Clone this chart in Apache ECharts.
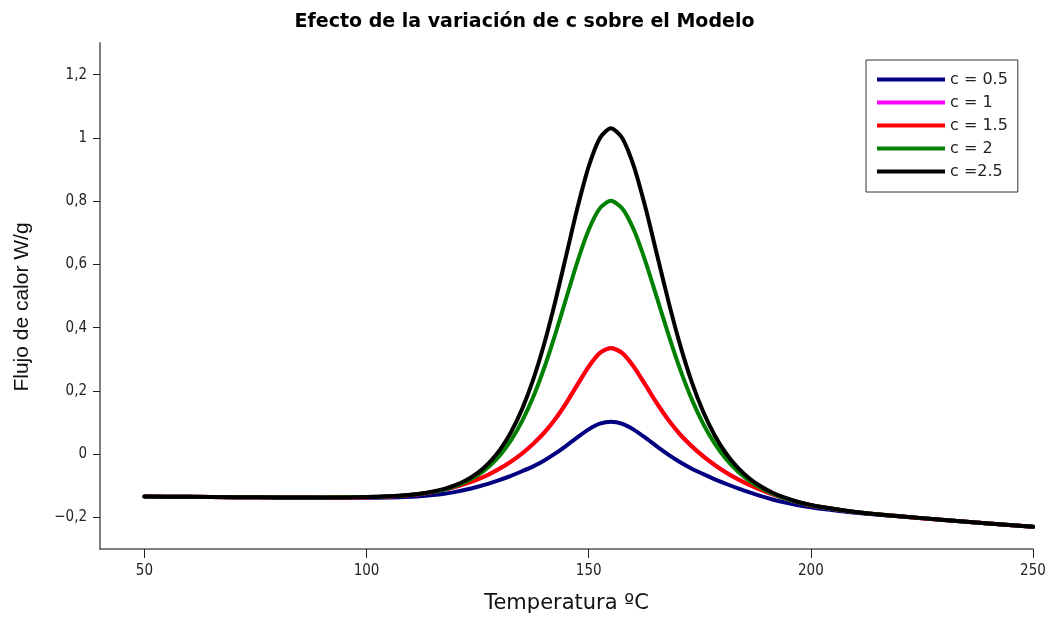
<!DOCTYPE html>
<html>
<head>
<meta charset="utf-8">
<script src="https://cdn.jsdelivr.net/npm/echarts@6/dist/echarts.min.js"></script>
<style>
html,body{margin:0;padding:0;background:#fff;}
#chart{width:1049px;height:619px;}
</style>
</head>
<body>
<div id="chart"></div>
<script>
// ---- data (Temperatura ºC -> Flujo de calor W/g) ----
const temps = [50, 60, 70, 80, 90, 100, 105,
  110, 112.5, 115, 117.5, 120, 122.5, 125, 127.5, 130, 132.5, 135, 137.5, 140, 142.5, 145, 147.5, 150, 152.5, 155,
  157.6, 160.2, 162.8, 165.4, 168, 170.6, 173.2, 175.8, 178.4, 181, 183.6, 186.2, 188.8, 191.4, 194, 196.6, 199.2, 201.8,
  210, 220, 230, 240, 250];

const c05 = [-0.1340, -0.1350, -0.1360, -0.1370, -0.1378, -0.1380, -0.1373,
  -0.1348, -0.1327, -0.1296, -0.1252, -0.1194, -0.1120, -0.1032, -0.0931, -0.0815, -0.0687, -0.0541, -0.0387, -0.0200, 0.0021, 0.0272, 0.0537, 0.0782, 0.0961, 0.1024,
  0.0953, 0.0766, 0.0512, 0.0237, -0.0025, -0.0259, -0.0461, -0.0632, -0.0797, -0.0945, -0.1084, -0.1211, -0.1328, -0.1433, -0.1524, -0.1602, -0.1667, -0.1722,
  -0.1853, -0.1973, -0.2084, -0.2192, -0.2300];

const c1 = [-0.1340, -0.1350, -0.1360, -0.1370, -0.1374, -0.1363, -0.1340,
  -0.1290, -0.1252, -0.1198, -0.1117, -0.1031, -0.0925, -0.0797, -0.0643, -0.0457, -0.0236, 0.0020, 0.0324, 0.0678, 0.1113, 0.1630, 0.2205, 0.2768, 0.3197, 0.3358,
  0.3189, 0.2752, 0.2180, 0.1595, 0.1067, 0.0619, 0.0250, -0.0071, -0.0346, -0.0587, -0.0796, -0.0976, -0.1133, -0.1270, -0.1389, -0.1504, -0.1592, -0.1664,
  -0.1831, -0.1967, -0.2083, -0.2192, -0.2300];

const c15 = [-0.1340, -0.1350, -0.1360, -0.1370, -0.1374, -0.1363, -0.1340,
  -0.1290, -0.1252, -0.1198, -0.1117, -0.1031, -0.0925, -0.0797, -0.0643, -0.0457, -0.0236, 0.0020, 0.0324, 0.0678, 0.1113, 0.1630, 0.2205, 0.2768, 0.3197, 0.3358,
  0.3189, 0.2752, 0.2180, 0.1595, 0.1067, 0.0619, 0.0250, -0.0071, -0.0346, -0.0587, -0.0796, -0.0976, -0.1133, -0.1270, -0.1389, -0.1504, -0.1592, -0.1664,
  -0.1831, -0.1967, -0.2083, -0.2192, -0.2300];

const c2 = [-0.1340, -0.1350, -0.1360, -0.1368, -0.1371, -0.1359, -0.1335,
  -0.1287, -0.1248, -0.1193, -0.1117, -0.1010, -0.0865, -0.0666, -0.0396, -0.0039, 0.0433, 0.1041, 0.1806, 0.2732, 0.3803, 0.4961, 0.6106, 0.7094, 0.7770, 0.8008,
  0.7762, 0.7078, 0.6081, 0.4926, 0.3757, 0.2673, 0.1732, 0.0950, 0.0323, -0.0169, -0.0549, -0.0845, -0.1073, -0.1249, -0.1389, -0.1499, -0.1588, -0.1661,
  -0.1828, -0.1964, -0.2081, -0.2192, -0.2300];

const c25 = [-0.1340, -0.1350, -0.1360, -0.1368, -0.1372, -0.1359, -0.1335,
  -0.1284, -0.1242, -0.1183, -0.1099, -0.0981, -0.0818, -0.0592, -0.0283, 0.0135, 0.0693, 0.1422, 0.2353, 0.3499, 0.4845, 0.6323, 0.7804, 0.9098, 0.9991, 1.0308,
  0.9983, 0.9082, 0.7779, 0.6288, 0.4799, 0.3440, 0.2279, 0.1331, 0.0583, 0.0005, -0.0436, -0.0771, -0.1026, -0.1220, -0.1371, -0.1489, -0.1582, -0.1658,
  -0.1828, -0.1964, -0.2081, -0.2192, -0.2300];

const seriesNames = ['c = 0.5', 'c = 1', 'c = 1.5', 'c = 2', 'c =2.5'];
const seriesValues = [c05, c1, c15, c2, c25];
const seriesColors = ['#000080', '#FF00FF', '#FF0000', '#008000', '#000000'];

const xTicks = [50, 100, 150, 200, 250];
const yTicks = [-0.2, 0, 0.2, 0.4, 0.6, 0.8, 1, 1.2];

const titleText = 'Efecto de la variación de c sobre el Modelo';
const xName = 'Temperatura ºC';
const yName = 'Flujo de calor W/g';

// ---- chart ----
const chart = echarts.init(document.getElementById('chart'), null, {renderer: 'canvas'});
const FONT_C = '"DejaVu Sans Condensed", "DejaVu Sans", sans-serif';
const FONT = '"DejaVu Sans", Verdana, sans-serif';

const series = seriesNames.map((name, i) => ({
  name: name,
  type: 'line',
  data: temps.map((t, j) => [t, seriesValues[i][j]]),
  smooth: 0.25,
  showSymbol: false,
  symbol: 'none',
  lineStyle: {color: seriesColors[i], width: 4, cap: 'round', join: 'round'},
  itemStyle: {color: seriesColors[i]},
  emphasis: {disabled: true}
}));

chart.setOption({
  animation: false,
  backgroundColor: '#ffffff',
  title: {
    text: titleText,
    left: 'center',
    top: 8,
    textStyle: {fontFamily: FONT, fontWeight: 'bold', fontSize: 19, color: '#000'}
  },
  grid: {left: 100, right: 16, top: 43, bottom: 68, containLabel: false},
  legend: {
    data: seriesNames,
    orient: 'vertical',
    left: 866,
    top: 60,
    padding: [11, 10, 12, 11],
    itemWidth: 68,
    itemHeight: 4,
    itemGap: 6,
    icon: 'rect',
    borderColor: '#333',
    borderWidth: 1,
    backgroundColor: '#fff',
    textStyle: {fontFamily: FONT, fontSize: 16, lineHeight: 17, color: '#222'}
  },
  xAxis: {
    type: 'value',
    min: 40,
    max: 250,
    name: xName,
    nameLocation: 'middle',
    nameGap: 44,
    nameTextStyle: {fontFamily: FONT, fontSize: 21, color: '#111'},
    axisLine: {show: true, onZero: false, lineStyle: {color: '#555', width: 1.5}},
    axisTick: {show: true, inside: false, length: 9, customValues: xTicks, lineStyle: {color: '#222', width: 1}},
    axisLabel: {customValues: xTicks, margin: 15, fontFamily: FONT_C, fontSize: 15, color: '#222'},
    splitLine: {show: false}
  },
  yAxis: {
    type: 'value',
    min: -0.3,
    max: 1.3,
    name: yName,
    nameLocation: 'middle',
    nameGap: 67,
    nameTextStyle: {fontFamily: '"Liberation Sans", Arial, sans-serif', fontSize: 21, color: '#111', padding: [0, 22, 0, 0]},
    axisLine: {show: true, onZero: false, lineStyle: {color: '#808080', width: 2}},
    axisTick: {show: true, inside: false, length: 7, customValues: yTicks, lineStyle: {color: '#222', width: 1}},
    axisLabel: {
      customValues: yTicks,
      margin: 13,
      fontFamily: FONT_C,
      fontSize: 15,
      color: '#222',
      formatter: v => (v < 0 ? '\u2212' : '') + String(Math.abs(Math.round(v * 10) / 10)).replace('.', ',')
    },
    splitLine: {show: false}
  },
  series: series
});
</script>
</body>
</html>
